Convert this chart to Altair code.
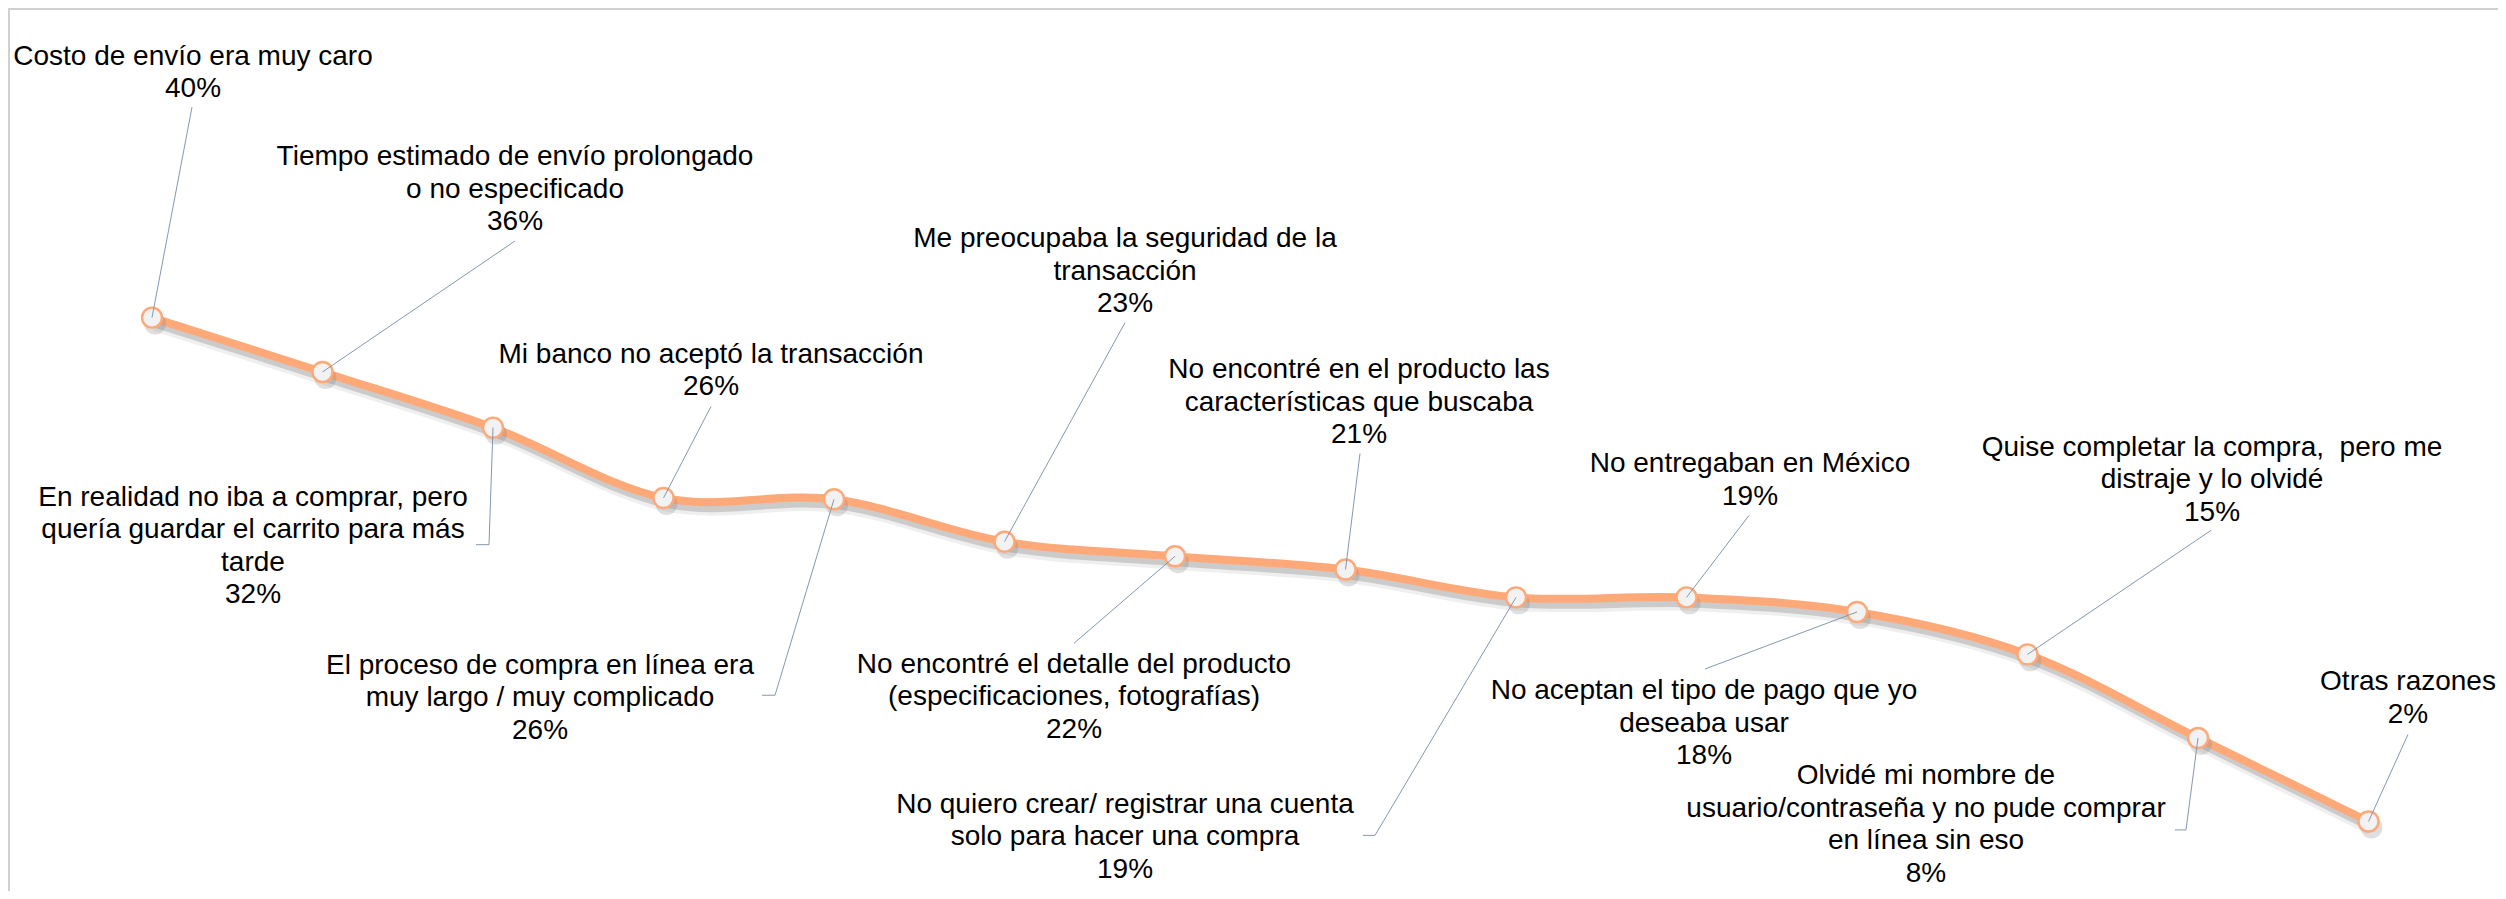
import altair as alt
import pandas as pd

# ---- data ----
reasons = [
    "Costo de envío era muy caro",
    "Tiempo estimado de envío prolongado\no no especificado",
    "En realidad no iba a comprar, pero\nquería guardar el carrito para más\ntarde",
    "Mi banco no aceptó la transacción",
    "El proceso de compra en línea era\nmuy largo / muy complicado",
    "Me preocupaba la seguridad de la\ntransacción",
    "No encontré el detalle del producto\n(especificaciones, fotografías)",
    "No encontré en el producto las\ncaracterísticas que buscaba",
    "No quiero crear/ registrar una cuenta\nsolo para hacer una compra",
    "No entregaban en México",
    "No aceptan el tipo de pago que yo\ndeseaba usar",
    "Quise completar la compra,\u00a0 pero me\ndistraje y lo olvidé",
    "Olvidé mi nombre de\nusuario/contraseña y no pude comprar\nen línea sin eso",
    "Otras razones",
]
values = [40.0, 35.9, 31.7, 26.4, 26.3, 23.1, 22.0, 21.0, 18.9, 18.9, 17.8, 14.6, 8.3, 2.0]

# ---- annotation layout (pixel offsets of label-block centres / leader ends from each point) ----
label_dx = [41, 192.5, -240, 47.5, -294, 120.5, -101, 13.5, -391, 63.5, -153, 184.5, -272, 39.5]
label_dy = [-244.5, -182, 119, -127, 199, -270, 141, -167, 240, -117, 112, -174, 87, -123]
end_dx = [40, 192.5, -17, 47.5, -72, 120.5, -101, 14.5, -153, 62.5, -152, 183.5, -23, 39.5]
end_dy = [-210.5, -131, 117, -91.5, 196, -219, 87, -116, 238, -82, 57, -124, 92, -87]
elbow_dx = [None, None, -4, None, -59, None, None, None, -141, None, None, None, -12, None]

FONT_SIZE = 28
LINE_H = 32.5
W, H = 2490, 883
STEP = 170.5          # px between categories
X_FIRST = 144         # px of first category inside the plot
PX_PER_PCT = 13.26    # px per percentage point
Y_ZERO = 840          # px of 0% inside the plot

x_domain = [-X_FIRST / STEP, (W - X_FIRST) / STEP]
y_top = Y_ZERO / PX_PER_PCT
y_domain = [y_top - H / PX_PER_PCT, y_top]

rows = []
for i, (r, v) in enumerate(zip(reasons, values)):
    text = f"{r}\n{round(v)}%"
    n_lines = text.count("\n") + 1
    first_line_dy = label_dy[i] - (n_lines - 1) * LINE_H / 2
    ex = i + end_dx[i] / STEP
    ey = v - end_dy[i] / PX_PER_PCT
    if elbow_dx[i] is None:
        bx, by = ex, ey
    else:
        bx, by = i + elbow_dx[i] / STEP, ey
    rows.append(dict(
        i=i, v=v, label=text,
        lx=i + label_dx[i] / STEP, ly=v - first_line_dy / PX_PER_PCT,
        ex=ex, ey=ey, bx=bx, by=by,
        sx=i + 3 / STEP, sy=v - 6 / PX_PER_PCT,
    ))
df = pd.DataFrame(rows)

xs = alt.Scale(domain=x_domain, nice=False, zero=False)
ys = alt.Scale(domain=y_domain, nice=False, zero=False)

base = alt.Chart(df)
LINE = "#FFA878"

shadow_wide = base.mark_line(interpolate="cardinal", color="#7f7f7f", strokeWidth=15, opacity=0.12).encode(
    x=alt.X("sx:Q", scale=xs, axis=None), y=alt.Y("sy:Q", scale=ys, axis=None))
shadow = base.mark_line(interpolate="cardinal", color="#7f7f7f", strokeWidth=8, opacity=0.32).encode(
    x=alt.X("sx:Q", scale=xs, axis=None), y=alt.Y("sy:Q", scale=ys, axis=None))
line = base.mark_line(interpolate="cardinal", color=LINE, strokeWidth=8, strokeCap="round").encode(
    x=alt.X("i:Q", scale=xs, axis=None), y=alt.Y("v:Q", scale=ys, axis=None))
marker_shadow = base.mark_circle(size=480, color="#7f7f7f", opacity=0.25).encode(
    x=alt.X("sx:Q", scale=xs, axis=None), y=alt.Y("sy:Q", scale=ys, axis=None))
markers = base.mark_point(shape="circle", filled=True, fill="#F2F2F2", stroke=LINE,
                          strokeWidth=2.4, size=400, opacity=1).encode(
    x=alt.X("i:Q", scale=xs, axis=None), y=alt.Y("v:Q", scale=ys, axis=None))
leader1 = base.mark_rule(color="#8497B0", strokeWidth=1).encode(
    x=alt.X("i:Q", scale=xs, axis=None), y=alt.Y("v:Q", scale=ys, axis=None),
    x2="bx:Q", y2="by:Q")
leader2 = base.mark_rule(color="#8497B0", strokeWidth=1).encode(
    x=alt.X("bx:Q", scale=xs, axis=None), y=alt.Y("by:Q", scale=ys, axis=None),
    x2="ex:Q", y2="ey:Q")
labels = base.mark_text(font="Liberation Sans", fontSize=FONT_SIZE, lineBreak="\n", lineHeight=LINE_H,
                        align="center", baseline="middle", color="#000000").encode(
    x=alt.X("lx:Q", scale=xs, axis=None), y=alt.Y("ly:Q", scale=ys, axis=None), text="label:N")

frame = pd.DataFrame({"a": [0]})
top_border = alt.Chart(frame).mark_rule(color="#D0D0D0", strokeWidth=2).encode(
    x=alt.value(0), x2=alt.value(W), y=alt.value(1))
left_border = alt.Chart(frame).mark_rule(color="#D0D0D0", strokeWidth=2).encode(
    x=alt.value(1), y=alt.value(0), y2=alt.value(H))

chart = alt.layer(
    top_border, left_border, shadow_wide, shadow, line, marker_shadow, markers, leader1, leader2, labels
).properties(
    width=W, height=H, padding=0, autosize="none", background="white"
).configure_view(stroke=None)

chart.save("out.html", embed_options={"renderer": "svg", "actions": False})
